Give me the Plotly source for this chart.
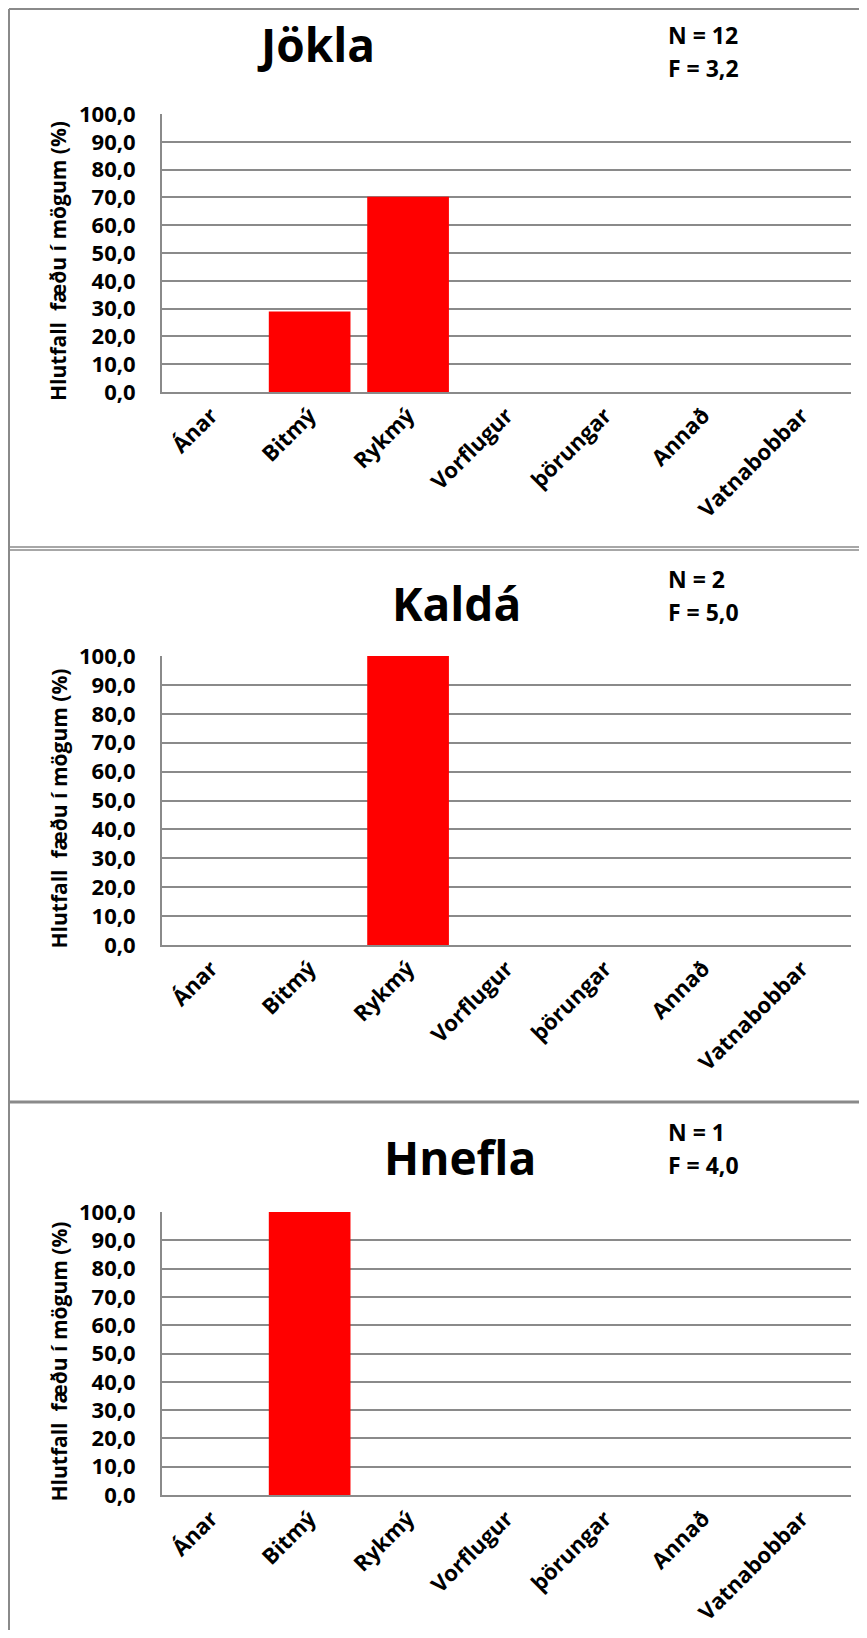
import plotly.graph_objects as go

# the page body keeps an 8px margin, so the figure is sized to fit inside it
PAGE_W, PAGE_H = 867, 1638
OFF = 8
W, H = PAGE_W - 2 * OFF, PAGE_H - 2 * OFF

categories = ["Ánar", "Bitmý", "Rykmý", "Vorflugur", "þörungar", "Annað", "Vatnabobbar"]
jokla_values = [0, 29.0, 70.2, 0, 0, 0, 0]
kalda_values = [0, 0, 100.0, 0, 0, 0, 0]
hnefla_values = [0, 100.0, 0, 0, 0, 0, 0]

stations = ["Jökla", "Kaldá", "Hnefla"]
n_labels = ["N = 12", "N = 2", "N = 1"]
f_labels = ["F = 3,2", "F = 5,0", "F = 4,0"]
y_tickvals = [0, 10, 20, 30, 40, 50, 60, 70, 80, 90, 100]
y_ticktext = ["0,0", "10,0", "20,0", "30,0", "40,0", "50,0", "60,0", "70,0", "80,0", "90,0", "100,0"]
y_title = "Hlutfall  fæðu í mögum (%)"

series = [jokla_values, kalda_values, hnefla_values]

# page-pixel layout of the three panels
plot_left, plot_right = 162, 851
plot_tops = [114, 656, 1212]
plot_bottoms = [392, 945, 1495]
title_pos = [(316, 44), (456, 603), (460, 1157)]
n_pos = [(666, 35), (666, 579), (666, 1132)]
f_pos = [(666, 68), (666, 612), (666, 1165)]

GRID = "#8a8a8a"
FONT = "Open Sans"


def px(x):
    return (x - OFF) / W


def py(y):
    return 1 - (y - OFF) / H


fig = go.Figure()
annotations = []
layout = {}

for i, vals in enumerate(series):
    sfx = "" if i == 0 else str(i + 1)
    fig.add_trace(go.Bar(
        x=categories, y=vals,
        marker=dict(color="#ff0000", line=dict(width=0)),
        xaxis="x" + sfx, yaxis="y" + sfx,
        showlegend=False,
    ))
    layout["xaxis" + sfx] = dict(
        domain=[px(plot_left), px(plot_right)],
        anchor="y" + sfx,
        tickangle=-45,
        tickfont=dict(family=FONT, size=22, color="black", weight="bold"),
        showgrid=False, showline=True, linecolor=GRID, linewidth=2,
        ticks="", ticklabelstandoff=0, automargin=False,
        fixedrange=True,
    )
    layout["yaxis" + sfx] = dict(
        domain=[py(plot_bottoms[i]), py(plot_tops[i])],
        anchor="x" + sfx,
        range=[0, 100],
        tickvals=y_tickvals, ticktext=y_ticktext,
        tickfont=dict(family=FONT, size=22, color="black", weight="bold"),
        showgrid=True, gridcolor=GRID, gridwidth=2,
        showline=True, linecolor=GRID, linewidth=2,
        zeroline=False, ticks="", ticklabelstandoff=20, automargin=False,
        fixedrange=True,
    )
    tx, ty = title_pos[i]
    annotations.append(dict(
        x=px(tx), y=py(ty), xref="paper", yref="paper",
        text=stations[i], showarrow=False, xanchor="center", yanchor="middle",
        font=dict(family=FONT, size=46, color="black", weight="bold"),
    ))
    for lbl, (lx, ly) in ((n_labels[i], n_pos[i]), (f_labels[i], f_pos[i])):
        annotations.append(dict(
            x=px(lx), y=py(ly), xref="paper", yref="paper",
            text=lbl, showarrow=False, xanchor="left", yanchor="middle",
            font=dict(family=FONT, size=23, color="black", weight="bold"),
        ))
    annotations.append(dict(
        x=px(58), y=py((plot_tops[i] + plot_bottoms[i]) / 2 + 8),
        xref="paper", yref="paper", text=y_title, textangle=-90,
        showarrow=False, xanchor="center", yanchor="middle",
        font=dict(family=FONT, size=21, color="black", weight="bold"),
    ))

# chart-area frames
shapes = [
    dict(type="line", xref="paper", yref="paper", x0=px(9), x1=px(PAGE_W), y0=py(9), y1=py(9),
         line=dict(color=GRID, width=2)),
    dict(type="line", xref="paper", yref="paper", x0=px(9), x1=px(9), y0=py(9), y1=py(PAGE_H),
         line=dict(color=GRID, width=2)),
    dict(type="line", xref="paper", yref="paper", x0=px(9), x1=px(PAGE_W), y0=py(547), y1=py(547),
         line=dict(color=GRID, width=1.5)),
    dict(type="line", xref="paper", yref="paper", x0=px(9), x1=px(PAGE_W), y0=py(550), y1=py(550),
         line=dict(color=GRID, width=1.5)),
    dict(type="line", xref="paper", yref="paper", x0=px(9), x1=px(PAGE_W), y0=py(1102), y1=py(1102),
         line=dict(color=GRID, width=3)),
]

fig.update_layout(
    width=W, height=H,
    margin=dict(l=0, r=0, t=0, b=0, autoexpand=False),
    paper_bgcolor="white", plot_bgcolor="white",
    bargap=0.17,
    annotations=annotations,
    shapes=shapes,
    **layout,
)

fig.write_html("out.html")
